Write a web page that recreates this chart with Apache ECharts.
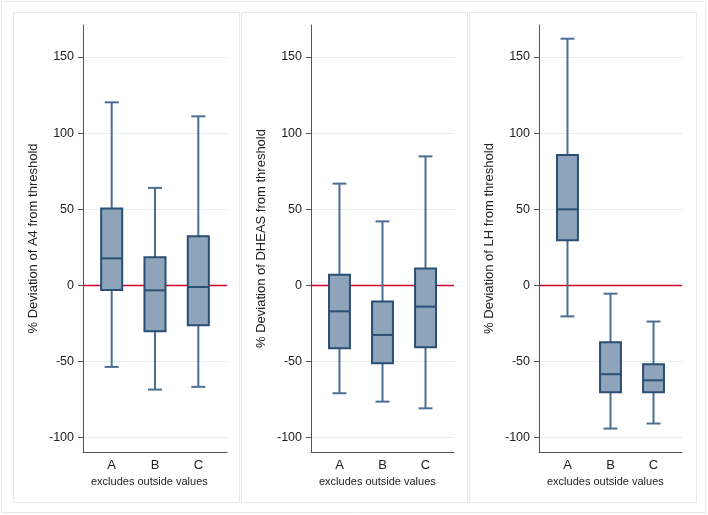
<!DOCTYPE html>
<html>
<head>
<meta charset="utf-8">
<script src="https://cdn.jsdelivr.net/npm/echarts@6/dist/echarts.min.js"></script>
<style>html,body{margin:0;padding:0;background:#fff;}#c{width:708px;height:515px;}</style>
</head>
<body>
<div id="c"></div>
<script>
// categories
var categories = ['A', 'B', 'C'];
// y tick labels
var yTicks = [-100, -50, 0, 50, 100, 150];
// panel titles
var panelNames = ['% Deviation of A4 from threshold', '% Deviation of DHEAS from threshold', '% Deviation of LH from threshold'];
var noteText = 'excludes outside values';
// box stats: [lower whisker, Q1, median, Q3, upper whisker]
var a4A = [-53.6, -3.0, 17.7, 50.4, 120.2];
var a4B = [-68.5, -30.2, -3.3, 18.4, 64.0];
var a4C = [-66.7, -26.3, -1.1, 32.2, 111.0];
var dheasA = [-70.9, -41.4, -17.1, 7.0, 66.8];
var dheasB = [-76.4, -51.2, -32.6, -10.7, 42.0];
var dheasC = [-80.8, -40.7, -14.0, 11.0, 84.7];
var lhA = [-20.4, 29.6, 49.9, 85.6, 162.0];
var lhB = [-94.1, -70.3, -58.4, -37.4, -5.5];
var lhC = [-90.8, -70.3, -62.4, -51.9, -23.8];
var refLine = 0;

var panels = [[a4A, a4B, a4C], [dheasA, dheasB, dheasC], [lhA, lhB, lhC]];
var gridLefts = [83, 311, 539];
var gridWidths = [144, 143, 143];
var panelRects = [[13, 12, 226, 490], [241, 12, 226, 490], [469, 12, 227, 490]];

var boxFill = '#8ea4ba';
var boxEdge = '#2b4e75';
var whiskerColor = '#4b6e93';
var FONT = 'Liberation Sans, Arial, sans-serif';

function renderBox(params, api) {
  var x = api.value(0);
  var lo = api.coord([x, api.value(1)]);
  var q1 = api.coord([x, api.value(2)]);
  var med = api.coord([x, api.value(3)]);
  var q3 = api.coord([x, api.value(4)]);
  var hi = api.coord([x, api.value(5)]);
  var bw = api.size([0.486, 0])[0];
  var cw = api.size([0.324, 0])[0];
  var cx = lo[0];
  return {
    type: 'group',
    children: [
      {type: 'line', shape: {x1: cx, y1: hi[1], x2: cx, y2: q3[1]}, style: {stroke: whiskerColor, lineWidth: 2}},
      {type: 'line', shape: {x1: cx, y1: q1[1], x2: cx, y2: lo[1]}, style: {stroke: whiskerColor, lineWidth: 2}},
      {type: 'line', shape: {x1: cx - cw / 2, y1: hi[1], x2: cx + cw / 2, y2: hi[1]}, style: {stroke: whiskerColor, lineWidth: 2}},
      {type: 'line', shape: {x1: cx - cw / 2, y1: lo[1], x2: cx + cw / 2, y2: lo[1]}, style: {stroke: whiskerColor, lineWidth: 2}},
      {type: 'rect', shape: {x: cx - bw / 2, y: q3[1], width: bw, height: q1[1] - q3[1]}, style: {fill: boxFill, stroke: boxEdge, lineWidth: 2}},
      {type: 'line', shape: {x1: cx - bw / 2, y1: med[1], x2: cx + bw / 2, y2: med[1]}, style: {stroke: boxEdge, lineWidth: 2}}
    ]
  };
}

var grids = [], xAxes = [], yAxes = [], series = [], titles = [], graphics = [];
graphics.push({type: 'rect', shape: {x: 1.5, y: 1.5, width: 704, height: 511}, style: {fill: 'none', stroke: '#e2eaee', lineWidth: 1}, z: -10});
for (var p = 0; p < 3; p++) {
  var r = panelRects[p];
  graphics.push({type: 'rect', shape: {x: r[0] + 0.5, y: r[1] + 0.5, width: r[2], height: r[3]}, style: {fill: '#fff', stroke: '#e2eaee', lineWidth: 1}, z: -9});
  grids.push({left: gridLefts[p], top: 25, width: gridWidths[p], height: 427});
  xAxes.push({
    type: 'value', gridIndex: p, min: 0.338, max: 3.662,
    axisLine: {show: true, onZero: false, lineStyle: {color: '#555', width: 1}},
    axisTick: {show: false},
    splitLine: {show: false},
    axisLabel: {
      customValues: [1, 2, 3],
      formatter: function (v) { return categories[Math.round(v) - 1] || ''; },
      color: '#222', fontSize: 13, fontFamily: FONT, margin: 7
    }
  });
  yAxes.push({
    type: 'value', gridIndex: p, min: -109.5, max: 171,
    name: panelNames[p], nameLocation: 'middle', nameGap: 43,
    nameTextStyle: {color: '#222', fontSize: 13, fontFamily: FONT},
    axisLine: {show: true, onZero: false, lineStyle: {color: '#555', width: 1}},
    axisTick: {show: true, length: 5, customValues: yTicks, lineStyle: {color: '#555'}},
    axisLabel: {customValues: yTicks, color: '#222', fontSize: 12.5, fontFamily: FONT, margin: 9},
    splitLine: {show: true, lineStyle: {color: '#e6eff2', width: 1}}
  });
  var data = panels[p].map(function (s, i) { return [i + 1].concat(s); });
  series.push({
    type: 'custom', xAxisIndex: p, yAxisIndex: p,
    renderItem: renderBox,
    encode: {x: 0, y: [1, 2, 3, 4, 5]},
    data: data,
    z: 3,
    markLine: {
      silent: true, symbol: 'none', label: {show: false},
      lineStyle: {color: '#d4002c', width: 1.3, type: 'solid'},
      data: [{yAxis: refLine}],
      z: 2
    }
  });
  titles.push({
    text: noteText, left: gridLefts[p] + 3, top: 471,
    textStyle: {color: '#222', fontSize: 11, fontWeight: 'normal', fontFamily: FONT}
  });
}

var chart = echarts.init(document.getElementById('c'), null, {renderer: 'canvas'});
chart.setOption({
  backgroundColor: '#ffffff',
  animation: false,
  title: titles,
  grid: grids,
  xAxis: xAxes,
  yAxis: yAxes,
  series: series,
  graphic: graphics
});
</script>
</body>
</html>
